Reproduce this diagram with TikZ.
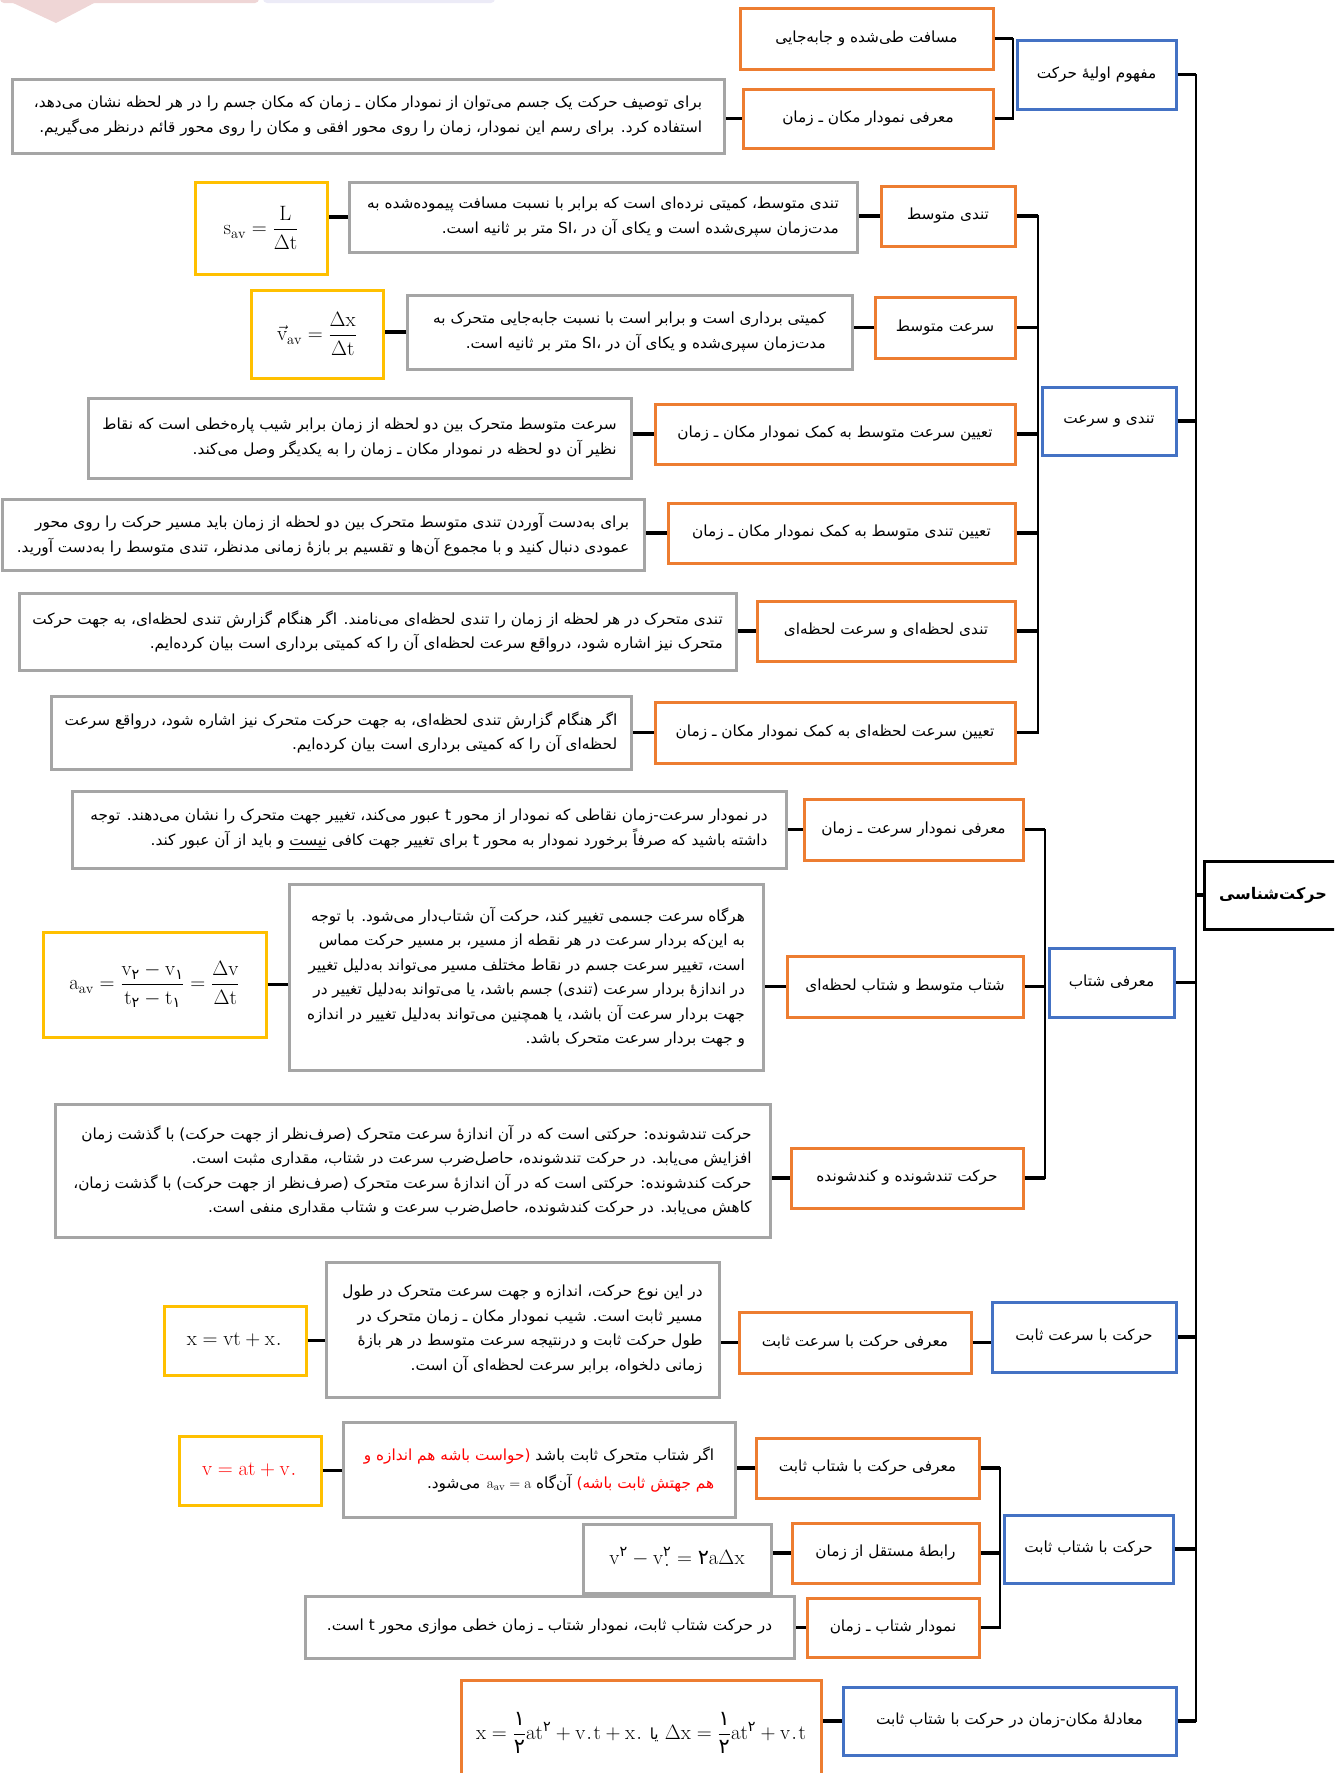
\documentclass[tikz,border=0pt]{standalone}
\usepackage{amsmath}
\usepackage{fontspec}
\TeXXeTstate=1
\newfontfamily\fa[Script=Arabic]{DejaVu Sans}
\definecolor{orng}{HTML}{ED7D31}
\definecolor{blu}{HTML}{4472C4}
\definecolor{yel}{HTML}{FFC000}
\definecolor{gry}{HTML}{A5A5A5}
\definecolor{pnk}{HTML}{EFD6D6}
\definecolor{lav}{HTML}{ECEBF7}
\newcommand\R[1]{\beginR #1\endR}
\newcommand\pd[1]{\text{\fa #1}}
\newcommand\bx[7]{\node[#2, minimum width={#5-#3}, minimum height={#6-#4}] (#1) at ({(#3+#5)/2},{(#4+#6)/2}) {#7};}
\begin{document}
\begin{tikzpicture}[x=1pt,y=-1pt,
  font=\fa\fontsize{15.3}{24.5}\selectfont,
  box/.style={inner sep=0pt, line width=3pt, fill=white, align=center},
  ob/.style={box, draw=orng},
  bb/.style={box, draw=blu},
  yb/.style={box, draw=yel, font=\fontsize{20.74}{24}\selectfont},
  gb/.style={box, draw=gry, align=right},
  gf/.style={box, draw=gry, font=\fontsize{20.74}{24}\selectfont},
  ofm/.style={box, draw=orng, font=\fontsize{20.74}{24}\selectfont},
  rb/.style={box, draw=black, font=\fa\bfseries\fontsize{16}{20}\selectfont},
  stub/.style={line width=3.5pt, black},
  bus/.style={line width=2pt, black, line cap=rect}]
\useasboundingbox (0,0) rectangle (1334,1773);
\clip (0,0) rectangle (1334,1773);
% decoration at top
\fill[pnk, rounded corners=4pt] (0,-10) rectangle (259,3);
\fill[pnk] (11,2) -- (96,2) -- (56,23) -- cycle;
\fill[lav, rounded corners=4pt] (263,-10) rectangle (495,3);

% group A
\bx{A}{bb}{1017}{40}{1176}{109}{\R{مفهوم اولیهٔ حرکت}}
\bx{A1}{ob}{740}{8}{993}{69}{\R{مسافت طی‌شده و جابه‌جایی}}
\bx{A2}{ob}{743}{89}{993}{148}{\R{معرفی نمودار مکان ـ زمان}}
\bx{A2d}{gb}{12}{79}{724}{153}{\R{برای توصیف حرکت یک جسم می‌توان از نمودار مکان ـ زمان که مکان جسم را در هر لحظه نشان می‌دهد،}\\
\R{استفاده کرد. برای رسم این نمودار، زمان را روی محور افقی و مکان را روی محور قائم درنظر می‌گیریم.}}

% group B
\bx{B}{bb}{1042}{387}{1176}{455}{\R{تندی و سرعت}}
\bx{B1}{ob}{881}{186}{1015}{246}{\R{تندی متوسط}}
\bx{B1d}{gb}{349}{182}{857}{252}{\R{تندی متوسط، کمیتی نرده‌ای است که برابر با نسبت مسافت پیموده‌شده به}\\
\R{مدت‌زمان سپری‌شده است و یکای آن در SI، متر بر ثانیه است.}}
\bx{B1f}{yb}{195}{182}{327}{274}{$\mathrm{s}_{\mathrm{av}}=\dfrac{\mathrm{L}}{\Delta\mathrm{t}}$}
\bx{B2}{ob}{875}{297}{1015}{358}{\R{سرعت متوسط}}
\bx{B2d}{gb}{407}{295}{852}{369}{\R{کمیتی برداری است و برابر است با نسبت جابه‌جایی متحرک به}\\
\R{مدت‌زمان سپری‌شده و یکای آن در SI، متر بر ثانیه است.}}
\bx{B2f}{yb}{251}{290}{383}{378}{$\vec{\mathrm{v}}_{\mathrm{av}}=\dfrac{\Delta\mathrm{x}}{\Delta\mathrm{t}}$}
\bx{B3}{ob}{655}{404}{1015}{464}{\R{تعیین سرعت متوسط به کمک نمودار مکان ـ زمان}}
\bx{B3d}{gb}{88}{398}{631}{478}{\R{سرعت متوسط متحرک بین دو لحظه از زمان برابر شیب پاره‌خطی است که نقاط}\\
\R{نظیر آن دو لحظه در نمودار مکان ـ زمان را به یکدیگر وصل می‌کند.}}
\bx{B4}{ob}{668}{503}{1015}{563}{\R{تعیین تندی متوسط به کمک نمودار مکان ـ زمان}}
\bx{B4d}{gb}{2}{499}{644}{570}{\R{برای به‌دست آوردن تندی متوسط متحرک بین دو لحظه از زمان باید مسیر حرکت را روی محور}\\
\R{عمودی دنبال کنید و با مجموع آن‌ها و تقسیم بر بازهٔ زمانی مدنظر، تندی متوسط را به‌دست آورید.}}
\bx{B5}{ob}{757}{601}{1015}{661}{\R{تندی لحظه‌ای و سرعت لحظه‌ای}}
\bx{B5d}{gb}{19}{593}{736}{670}{\R{تندی متحرک در هر لحظه از زمان را تندی لحظه‌ای می‌نامند. اگر هنگام گزارش تندی لحظه‌ای، به جهت حرکت}\\
\R{متحرک نیز اشاره شود، درواقع سرعت لحظه‌ای آن را که کمیتی برداری است بیان کرده‌ایم.}}
\bx{B6}{ob}{655}{702}{1015}{763}{\R{تعیین سرعت لحظه‌ای به کمک نمودار مکان ـ زمان}}
\bx{B6d}{gb}{51}{696}{631}{769}{\R{اگر هنگام گزارش تندی لحظه‌ای، به جهت حرکت متحرک نیز اشاره شود، درواقع سرعت}\\
\R{لحظه‌ای آن را که کمیتی برداری است بیان کرده‌ایم.}}

% group C
\bx{C}{bb}{1049}{948}{1174}{1017}{\R{معرفی شتاب}}
\bx{C1}{ob}{804}{799}{1023}{860}{\R{معرفی نمودار سرعت ـ زمان}}
\bx{C1d}{gb}{72}{791}{786}{868}{\R{در نمودار سرعت-زمان نقاطی که نمودار از محور t عبور می‌کند، تغییر جهت متحرک را نشان می‌دهند. توجه}\\
\R{داشته باشید که صرفاً برخورد نمودار به محور t برای تغییر جهت کافی \underline{نیست} و باید از آن عبور کند.}}
\bx{C2}{ob}{787}{956}{1023}{1017}{\R{شتاب متوسط و شتاب لحظه‌ای}}
\bx{C2d}{gb}{289}{884}{763}{1070}{\R{هرگاه سرعت جسمی تغییر کند، حرکت آن شتاب‌دار می‌شود. با توجه}\\
\R{به این‌که بردار سرعت در هر نقطه از مسیر، بر مسیر حرکت مماس}\\
\R{است، تغییر سرعت جسم در نقاط مختلف مسیر می‌تواند به‌دلیل تغییر}\\
\R{در اندازهٔ بردار سرعت (تندی) جسم باشد، یا می‌تواند به‌دلیل تغییر در}\\
\R{جهت بردار سرعت آن باشد، یا همچنین می‌تواند به‌دلیل تغییر در اندازه}\\
\R{و جهت بردار سرعت متحرک باشد.}}
\bx{C2f}{yb}{43}{932}{266}{1037}{$\mathrm{a}_{\mathrm{av}}=\dfrac{\mathrm{v}_{\pd{۲}}-\mathrm{v}_{\pd{۱}}}{\mathrm{t}_{\pd{۲}}-\mathrm{t}_{\pd{۱}}}=\dfrac{\Delta\mathrm{v}}{\Delta\mathrm{t}}$}
\bx{C3}{ob}{791}{1148}{1023}{1208}{\R{حرکت تندشونده و کندشونده}}
\bx{C3d}{gb}{55}{1104}{770}{1237}{\R{حرکت تندشونده: حرکتی است که در آن اندازهٔ سرعت متحرک (صرف‌نظر از جهت حرکت) با گذشت زمان}\\
\R{افزایش می‌یابد. در حرکت تندشونده، حاصل‌ضرب سرعت در شتاب، مقداری مثبت است.}\\
\R{حرکت کندشونده: حرکتی است که در آن اندازهٔ سرعت متحرک (صرف‌نظر از جهت حرکت) با گذشت زمان،}\\
\R{کاهش می‌یابد. در حرکت کندشونده، حاصل‌ضرب سرعت و شتاب مقداری منفی است.}}

% group D
\bx{D}{bb}{992}{1302}{1176}{1372}{\R{حرکت با سرعت ثابت}}
\bx{D1}{ob}{739}{1312}{971}{1373}{\R{معرفی حرکت با سرعت ثابت}}
\bx{D1d}{gb}{326}{1262}{719}{1397}{\R{در این نوع حرکت، اندازه و جهت سرعت متحرک در طول}\\
\R{مسیر ثابت است. شیب نمودار مکان ـ زمان متحرک در}\\
\R{طول حرکت ثابت و درنتیجه سرعت متوسط در هر بازهٔ}\\
\R{زمانی دلخواه، برابر سرعت لحظه‌ای آن است.}}
\bx{D1f}{yb}{164}{1306}{306}{1375}{$\mathrm{x}=\mathrm{vt}+\mathrm{x}_{\pd{۰}}$}

% group E
\bx{E}{bb}{1004}{1515}{1173}{1583}{\R{حرکت با شتاب ثابت}}
\bx{E1}{ob}{756}{1438}{979}{1498}{\R{معرفی حرکت با شتاب ثابت}}
\bx{E1d}{gb}{343}{1422}{735}{1517}{{\color{red}\R{(حواست باشه هم اندازه و}} \R{اگر شتاب متحرک ثابت باشد}\\[4pt]
\R{می‌شود.} $\mathrm{a}_{\mathrm{av}}=\mathrm{a}$ \R{آن‌گاه} {\color{red}\R{هم جهتش ثابت باشه)}}}
\bx{E1f}{yb}{179}{1436}{321}{1505}{\color{red}$\mathrm{v}=\mathrm{at}+\mathrm{v}_{\pd{۰}}$}
\bx{E2}{ob}{792}{1523}{979}{1583}{\R{رابطهٔ مستقل از زمان}}
\bx{E2f}{gf}{583}{1524}{771}{1593}{$\mathrm{v}^{\pd{۲}}-\mathrm{v}_{\pd{۰}}^{\pd{۲}}=\pd{۲}\mathrm{a}\Delta\mathrm{x}$}
\bx{E3}{ob}{807}{1598}{979}{1657}{\R{نمودار شتاب ـ زمان}}
\bx{E3d}{gb}{305}{1596}{794}{1658}{\R{در حرکت شتاب ثابت، نمودار شتاب ـ زمان خطی موازی محور t است.}}

% group F
\bx{F}{bb}{843}{1687}{1176}{1755}{\R{معادلهٔ مکان-زمان در حرکت با شتاب ثابت}}
\bx{Ff}{ofm}{461}{1680}{821}{1786}{$\mathrm{x}=\dfrac{\pd{۱}}{\pd{۲}}\mathrm{at}^{\pd{۲}}+\mathrm{v}_{\pd{۰}}\mathrm{t}+\mathrm{x}_{\pd{۰}}$\ {\fa\fontsize{15.3}{18}\selectfont یا}\ $\Delta\mathrm{x}=\dfrac{\pd{۱}}{\pd{۲}}\mathrm{at}^{\pd{۲}}+\mathrm{v}_{\pd{۰}}\mathrm{t}$}

% root
\bx{root}{rb}{1204}{861}{1342}{929}{\R{حرکت‌شناسی}}

% connectors
\coordinate (T) at (1196,895);
\coordinate (Abus) at (1013,0);
\coordinate (Bbus) at (1038,0);
\coordinate (Cbus) at (1045,0);
\coordinate (Ebus) at (1000,0);

\draw[stub] (A1.east) -- (A1.east -| Abus);
\draw[stub] (A2.east) -- (A2.east -| Abus);
\draw[bus] (A1.east -| Abus) -- (A2.east -| Abus);
\draw[stub] (A2.west) -- (A2.west -| A2d.east);

\foreach \n in {B1,B2,B3,B4,B5,B6}{
  \draw[stub] (\n.east) -- (\n.east -| Bbus);
  \draw[stub] (\n.west) -- (\n.west -| \n d.east);
}
\draw[bus] (B1.east -| Bbus) -- (B6.east -| Bbus);
\draw[stub] (B1d.west) -- (B1d.west -| B1f.east);
\draw[stub] (B2d.west) -- (B2d.west -| B2f.east);

\foreach \n in {C1,C2,C3}{
  \draw[stub] (\n.east) -- (\n.east -| Cbus);
  \draw[stub] (\n.west) -- (\n.west -| \n d.east);
}
\draw[bus] (C1.east -| Cbus) -- (C3.east -| Cbus);
\draw[stub] (C2f.east) -- (C2f.east -| C2d.west);

\draw[stub] (D1.east) -- (D1.east -| D.west);
\draw[stub] (D1.west) -- (D1.west -| D1d.east);
\draw[stub] (D1f.east) -- (D1f.east -| D1d.west);

\foreach \n in {E1,E2,E3}{
  \draw[stub] (\n.east) -- (\n.east -| Ebus);
}
\draw[bus] (E1.east -| Ebus) -- (E3.east -| Ebus);
\draw[stub] (E1.west) -- (E1.west -| E1d.east);
\draw[stub] (E1f.east) -- (E1f.east -| E1d.west);
\draw[stub] (E2.west) -- (E2.west -| E2f.east);
\draw[stub] (E3.west) -- (E3.west -| E3d.east);

\draw[stub] (F.west) -- (F.west -| Ff.east);

\foreach \n in {A,B,C,D,E,F}{
  \draw[stub] (\n.east) -- (\n.east -| T);
}
\draw[bus] (A.east -| T) -- (F.east -| T);
\draw[stub] (root.west) -- (T);
\end{tikzpicture}
\end{document}
